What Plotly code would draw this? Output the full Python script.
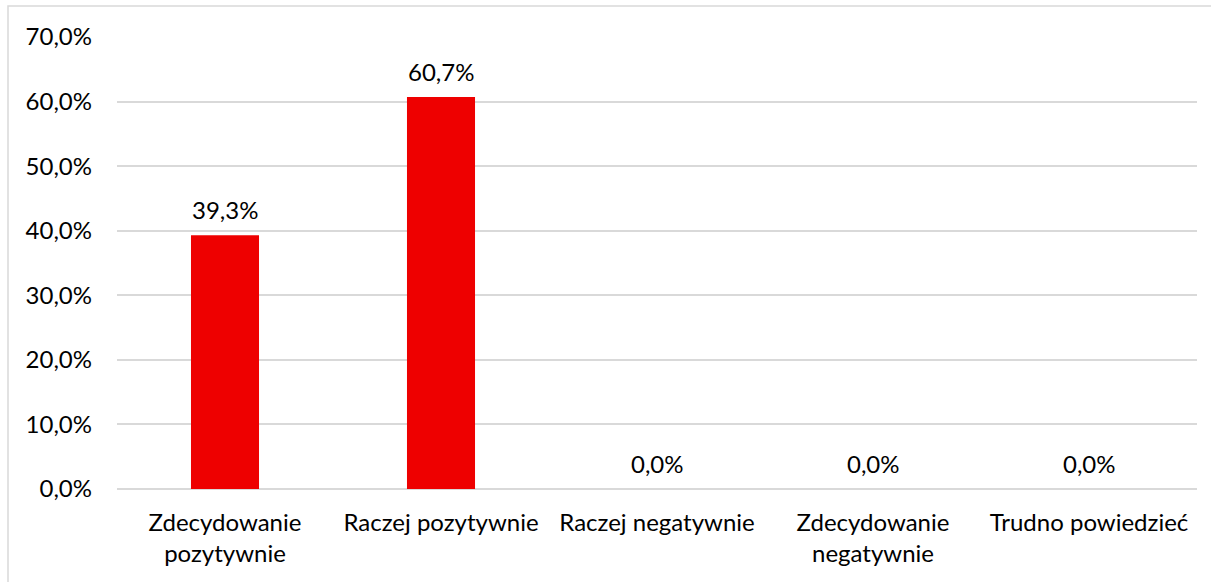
import plotly.graph_objects as go

categories = ["Zdecydowanie<br>pozytywnie", "Raczej pozytywnie", "Raczej negatywnie",
              "Zdecydowanie<br>negatywnie", "Trudno powiedzieć"]
values = [39.3, 60.7, 0.0, 0.0, 0.0]
tick_vals = [0, 10, 20, 30, 40, 50, 60, 70]
tick_text = [f"{v:.1f}%".replace(".", ",") for v in tick_vals]
value_labels = [f"{v:.1f}%".replace(".", ",") for v in values]

FONT = "Lato"
FS = 24

fig = go.Figure(go.Bar(
    x=categories, y=values,
    marker=dict(color="#EE0000", line=dict(width=0)),
    width=0.315,
    hoverinfo="skip",
))

for c, v, t in zip(categories, values, value_labels):
    fig.add_annotation(x=c, y=v, text=t, showarrow=False, yanchor="middle",
                       yshift=26, font=dict(family=FONT, size=FS, color="#000000"))

L, R, T, B = 117, 14, 37, 93
W, H = 1211, 582
pw, ph = W - L - R, H - T - B

fig.update_layout(
    width=W, height=H,
    margin=dict(l=L, r=R, t=T, b=B),
    paper_bgcolor="white", plot_bgcolor="white",
    font=dict(family=FONT, size=FS, color="#000000"),
    showlegend=False,
    xaxis=dict(showgrid=False, showline=False, ticks="", tickfont=dict(size=FS),
               ticklabelstandoff=17),
    yaxis=dict(range=[0, 70], tickvals=tick_vals, ticktext=tick_text,
               showgrid=True, gridcolor="#D9D9D9", gridwidth=1.5,
               zeroline=True, zerolinecolor="#D9D9D9", zerolinewidth=1.5,
               showline=False, ticks="", ticklabelstandoff=24,
               tickfont=dict(size=FS)),
    shapes=[dict(type="rect", xref="paper", yref="paper",
                 x0=(8 - L) / pw, x1=(W + 10 - L) / pw,
                 y0=-(B + 10) / ph, y1=(H - B - 6) / ph,
                 line=dict(color="#D9D9D9", width=1.5), fillcolor="rgba(0,0,0,0)",
                 layer="below")],
)

fig.write_html("out.html")
